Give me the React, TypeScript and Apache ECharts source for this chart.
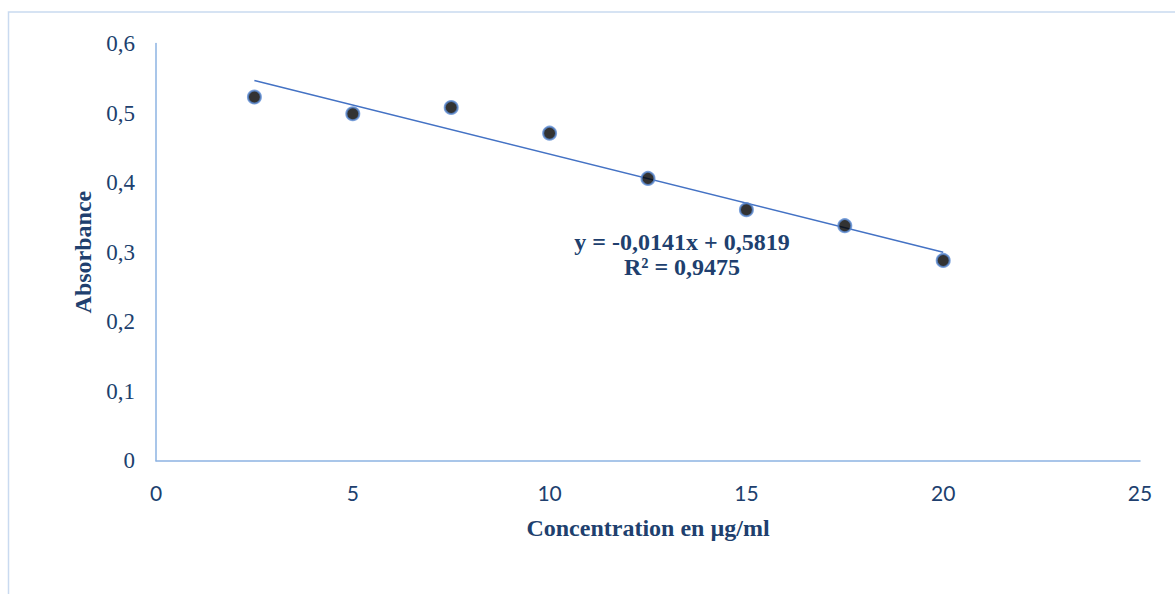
import React, { useEffect, useRef } from "react";
import * as echarts from "echarts";

const concentrations = [2.5, 5, 7.5, 10, 12.5, 15, 17.5, 20];
const absorbances = [0.523, 0.499, 0.508, 0.471, 0.406, 0.361, 0.338, 0.288];
const slope = -0.0141;
const intercept = 0.5819;
const trendX = [2.5, 20];
const equationLines = ["y = -0,0141x + 0,5819", "R² = 0,9475"];
const xTitle = "Concentration en µg/ml";
const yTitle = "Absorbance";

const textColor = "#203F6E";
const axisColor = "#8DB3E2";

export default function App() {
  const ref = useRef<HTMLDivElement>(null);
  useEffect(() => {
    if (!ref.current) return;
    const chart = echarts.init(ref.current, null, { renderer: "svg" });
    const trend = trendX.map((x) => [x, intercept + slope * x]);
    chart.setOption({
      animation: false,
      backgroundColor: "#ffffff",
      grid: { left: 156, top: 43.5, right: 35, bottom: 133.3 },
      xAxis: {
        type: "value",
        min: 0,
        max: 25,
        interval: 5,
        name: xTitle,
        nameLocation: "middle",
        nameGap: 55,
        nameTextStyle: {
          fontFamily: "Liberation Serif",
          fontWeight: "bold",
          fontSize: 24,
          color: textColor,
        },
        axisLine: { show: true, lineStyle: { color: axisColor, width: 1.5 } },
        axisTick: { show: false },
        splitLine: { show: false },
        axisLabel: {
          margin: 21,
          fontFamily: "Lato",
          fontSize: 21,
          color: textColor,
        },
      },
      yAxis: {
        type: "value",
        min: 0,
        max: 0.6,
        interval: 0.1,
        name: yTitle,
        nameLocation: "middle",
        nameRotate: 90,
        nameGap: 60,
        nameTextStyle: {
          fontFamily: "Liberation Serif",
          fontWeight: "bold",
          fontSize: 24,
          color: textColor,
        },
        axisLine: { show: true, lineStyle: { color: axisColor, width: 1.5 } },
        axisTick: { show: false },
        splitLine: { show: false },
        axisLabel: {
          margin: 21,
          fontFamily: "Liberation Serif",
          fontSize: 23,
          color: textColor,
          formatter: (v: number) => (Math.round(v * 10) / 10).toString().replace(".", ","),
        },
      },
      series: [
        {
          type: "line",
          data: trend,
          symbol: "none",
          lineStyle: { color: "#4472C4", width: 1.5 },
          z: 2,
        },
        {
          type: "scatter",
          data: concentrations.map((x, i) => [x, absorbances[i]]),
          symbol: "circle",
          symbolSize: 13,
          itemStyle: { color: "#000000", borderColor: "#5A8AD2", borderWidth: 2 },
          z: 3,
        },
      ],
      graphic: [
        {
          type: "rect",
          shape: { x: 8.5, y: 12, width: 1180, height: 600 },
          style: { fill: "none", stroke: "#C9DAF0", lineWidth: 1.5 },
          silent: true,
        },
        {
          type: "text",
          x: 682,
          y: 229,
          style: {
            text: equationLines.join("\n"),
            fontFamily: "Liberation Serif",
            fontWeight: "bold",
            fontSize: 24,
            lineHeight: 25,
            fill: textColor,
            align: "center",
            verticalAlign: "top",
          },
        },
      ],
    });
    return () => chart.dispose();
  }, []);
  return (
    <div
      ref={ref}
      style={{ position: "fixed", left: 0, top: 0, width: 1175, height: 594 }}
    />
  );
}
